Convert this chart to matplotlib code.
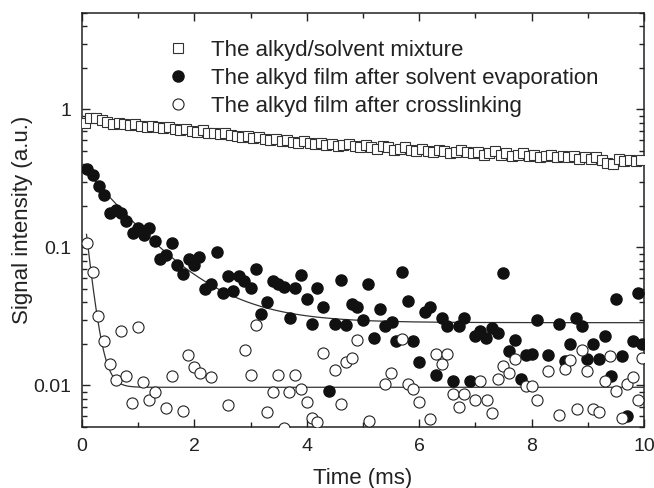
import numpy as np
import matplotlib
matplotlib.use("Agg")
import matplotlib.pyplot as plt
from matplotlib.ticker import FixedLocator, FixedFormatter, LogLocator, NullFormatter, MultipleLocator

plt.rcParams['font.family'] = ['Liberation Sans', 'DejaVu Sans']

# alkyd/solvent mixture (squares), sampled every 0.1 ms
t_mix = np.round(np.arange(0.05, 10.0, 0.1), 2)
v_mix = [0.80, 0.86, 0.87, 0.84, 0.81, 0.79, 0.80, 0.78, 0.77, 0.78,
         0.76, 0.75, 0.76, 0.74, 0.73, 0.75, 0.72, 0.71, 0.72, 0.70,
         0.69, 0.71, 0.68, 0.67, 0.66, 0.68, 0.65, 0.64, 0.63, 0.64,
         0.62, 0.63, 0.61, 0.60, 0.61, 0.59, 0.60, 0.58, 0.57, 0.59,
         0.57, 0.56, 0.57, 0.55, 0.56, 0.54, 0.55, 0.56, 0.54, 0.53,
         0.55, 0.53, 0.52, 0.54, 0.53, 0.51, 0.52, 0.53, 0.51, 0.50,
         0.52, 0.50, 0.49, 0.51, 0.50, 0.48, 0.49, 0.51, 0.49, 0.48,
         0.49, 0.47, 0.48, 0.50, 0.47, 0.48, 0.46, 0.47, 0.48, 0.46,
         0.47, 0.45, 0.46, 0.47, 0.45, 0.46, 0.45, 0.46, 0.44, 0.45,
         0.44, 0.45, 0.43, 0.41, 0.40, 0.44, 0.42, 0.43, 0.42, 0.43]

# film after solvent evaporation (filled circles)
t_evap = [0.08, 0.20, 0.30, 0.39, 0.49, 0.61, 0.70, 0.79, 0.91, 1.00,
          1.10, 1.19, 1.29, 1.39, 1.50, 1.61, 1.69, 1.80, 1.90, 2.00,
          2.09, 2.18, 2.29, 2.41, 2.50, 2.60, 2.69, 2.79, 2.89, 3.00,
          3.09, 3.19, 3.29, 3.39, 3.49, 3.59, 3.70, 3.79, 3.90, 4.00,
          4.10, 4.19, 4.29, 4.39, 4.50, 4.60, 4.70, 4.80, 4.89, 5.00,
          5.09, 5.19, 5.30, 5.39, 5.51, 5.59, 5.70, 5.80, 5.89, 6.00,
          6.10, 6.19, 6.30, 6.40, 6.50, 6.61, 6.70, 6.80, 6.90, 6.99,
          7.09, 7.19, 7.30, 7.41, 7.50, 7.60, 7.70, 7.81, 7.90, 8.00,
          8.10, 8.30, 8.49, 8.59, 8.69, 8.79, 8.90, 8.99, 9.10, 9.20,
          9.31, 9.41, 9.50, 9.60, 9.70, 9.80, 9.90, 9.97]
v_evap = [0.373, 0.334, 0.278, 0.238, 0.178, 0.187, 0.178, 0.156, 0.127, 0.138,
          0.123, 0.138, 0.112, 0.082, 0.088, 0.108, 0.075, 0.064, 0.082, 0.075,
          0.085, 0.050, 0.054, 0.092, 0.047, 0.062, 0.048, 0.062, 0.057, 0.051,
          0.070, 0.033, 0.040, 0.057, 0.054, 0.052, 0.031, 0.051, 0.063, 0.042,
          0.028, 0.051, 0.037, 0.0091, 0.028, 0.058, 0.0275, 0.039, 0.037, 0.030,
          0.0545, 0.022, 0.036, 0.027, 0.029, 0.021, 0.066, 0.041, 0.021, 0.0147,
          0.034, 0.037, 0.012, 0.031, 0.027, 0.0107, 0.027, 0.031, 0.0107, 0.023,
          0.025, 0.022, 0.026, 0.024, 0.065, 0.0177, 0.0215, 0.0112, 0.0165, 0.017,
          0.030, 0.0165, 0.028, 0.015, 0.020, 0.031, 0.027, 0.0156, 0.020, 0.0156,
          0.023, 0.0118, 0.0425, 0.0163, 0.0060, 0.021, 0.047, 0.020]

# film after crosslinking (open circles)
t_cross = [0.09, 0.20, 0.29, 0.39, 0.49, 0.60, 0.70, 0.79, 0.89, 1.00,
           1.09, 1.20, 1.30, 1.49, 1.60, 1.79, 1.89, 1.99, 2.10, 2.29,
           2.60, 2.90, 3.00, 3.10, 3.30, 3.39, 3.49, 3.59, 3.69, 3.79,
           3.90, 4.00, 4.10, 4.19, 4.29, 4.50, 4.60, 4.70, 4.80, 4.90,
           5.11, 5.40, 5.50, 5.70, 5.80, 5.89, 6.00, 6.19, 6.30, 6.40,
           6.50, 6.60, 6.70, 6.80, 6.99, 7.09, 7.20, 7.30, 7.40, 7.50,
           7.60, 7.70, 7.90, 8.00, 8.10, 8.30, 8.49, 8.59, 8.69, 8.80,
           8.90, 8.99, 9.10, 9.20, 9.31, 9.40, 9.50, 9.60, 9.70, 9.80,
           9.90, 9.97]
v_cross = [0.108, 0.066, 0.0316, 0.0209, 0.0144, 0.011, 0.025, 0.0118, 0.0075, 0.0265,
           0.0106, 0.0078, 0.0089, 0.0069, 0.0118, 0.0065, 0.0166, 0.0136, 0.0124, 0.0116,
           0.0072, 0.0182, 0.012, 0.0276, 0.0064, 0.0089, 0.0119, 0.0049, 0.0089, 0.012,
           0.0095, 0.0076, 0.0058, 0.0054, 0.0172, 0.013, 0.0074, 0.0147, 0.0158, 0.0215,
           0.0055, 0.0103, 0.0124, 0.0217, 0.0102, 0.0094, 0.0076, 0.0057, 0.0168, 0.0142,
           0.017, 0.0086, 0.0070, 0.0087, 0.0079, 0.0107, 0.0079, 0.0063, 0.0112, 0.0138,
           0.0124, 0.0156, 0.0099, 0.0099, 0.0079, 0.0127, 0.0061, 0.0132, 0.0152, 0.0067,
           0.0182, 0.0127, 0.0067, 0.0064, 0.0107, 0.0163, 0.0091, 0.0058, 0.0103, 0.0116,
           0.0079, 0.0158]

# single-exponential fit parameters: y0 + A*exp(-t/tau)
fit_evap = (0.0285, 0.36, 0.86)
fit_cross = (0.0097, 0.23, 0.115)

labels = ["The alkyd/solvent mixture",
          "The alkyd film after solvent evaporation",
          "The alkyd film after crosslinking"]

ink = '#222222'
fig = plt.figure(figsize=(6.54, 4.88), dpi=100)
ax = fig.add_axes([0.1254, 0.125, 0.8593, 0.8484])

ax.plot(t_mix, v_mix, 's', ms=6.5, mfc='white', mec='#333333', mew=0.8, label=labels[0], zorder=3)
ax.plot(t_evap, v_evap, 'o', ms=8, mfc='#111111', mec='#111111', label=labels[1], zorder=3)
ax.plot(t_cross, v_cross, 'o', ms=8, mfc='white', mec='#222222', mew=0.8, label=labels[2], zorder=3)

tt = np.linspace(0.08, 10, 400)
for y0, a, tau in (fit_evap, fit_cross):
    ax.plot(tt, y0 + a * np.exp(-tt / tau), '-', color='#333333', lw=0.9, zorder=2)

ax.set_yscale('log')
ax.set_xlim(0, 10)
ax.set_ylim(0.005, 5)
ax.xaxis.set_major_locator(MultipleLocator(2))
ax.xaxis.set_minor_locator(MultipleLocator(1))
ax.yaxis.set_major_locator(FixedLocator([0.01, 0.1, 1]))
ax.yaxis.set_major_formatter(FixedFormatter(['0.01', '0.1', '1']))
ax.yaxis.set_minor_locator(LogLocator(base=10, subs=np.arange(2, 10)))
ax.yaxis.set_minor_formatter(NullFormatter())
ax.tick_params(which='both', direction='in', top=True, right=True, color=ink,
               labelsize=14, labelcolor=ink, width=1)
ax.tick_params(which='major', length=6, pad=8)
ax.tick_params(which='minor', length=3.5)
for s in ax.spines.values():
    s.set_color(ink)
    s.set_linewidth(1.1)

ax.set_xlabel('Time (ms)', fontsize=16, color=ink, labelpad=9)
ax.set_ylabel('Signal intensity (a.u.)', fontsize=16, color=ink, labelpad=0)

ax.legend(loc='upper left', bbox_to_anchor=(0.116, 0.957), frameon=False, fontsize=16,
          handletextpad=0.45, labelspacing=0.32, borderaxespad=0, labelcolor=ink)

fig.savefig('out.png', dpi=100)
